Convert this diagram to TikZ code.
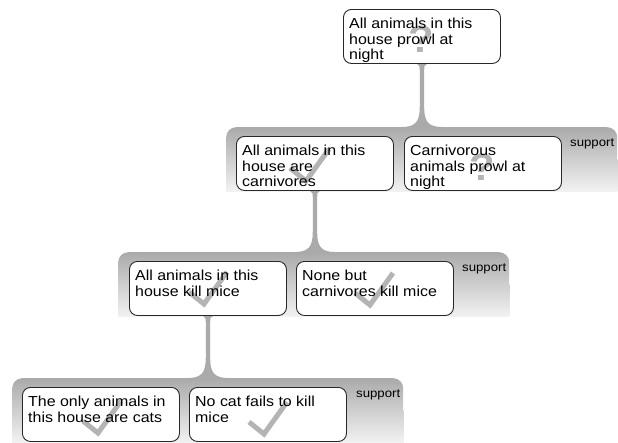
\documentclass[tikz,border=0pt]{standalone}
\usepackage{fontspec}
\setmainfont{Liberation Sans}[FakeStretch=1.1]
\usetikzlibrary{calc}
\definecolor{panelTop}{RGB}{170,170,170}
\definecolor{panelBot}{RGB}{242,242,242}
\definecolor{markC}{RGB}{180,180,180}
\definecolor{boxLine}{RGB}{40,40,40}
\pgfdeclarelayer{panels}
\pgfdeclarelayer{stems}
\pgfsetlayers{panels,stems,main}
\tikzset{
 panel/.style={rectangle, rounded corners=10pt, top color=panelTop, bottom color=panelBot, draw=none, minimum width=391pt, minimum height=64pt, anchor=north west, inner sep=0pt},
 panelfoot/.style={top color=panelTop!50!panelBot, bottom color=panelBot, draw=none},
 claim/.style={rectangle, rounded corners=8pt, draw=boxLine, line width=0.9pt, fill=white, minimum width=157pt, minimum height=54pt, anchor=north west, inner sep=0pt},
 claimtext/.style={anchor=north west, inner sep=0pt, align=left, font=\fontsize{14.5pt}{15.5pt}\selectfont},
 supp/.style={anchor=base east, inner sep=0pt, font=\fontsize{12pt}{14pt}\selectfont},
 tick/.style={draw=markC, line width=5pt},
 qmark/.style={text=markC, font=\fontsize{38pt}{40pt}\selectfont\bfseries, inner sep=0pt},
}
\newcommand\stemconn[2]{%
 \fill[panelTop] let \p1=(#1.south), \p2=(#1.south |- #2.north) in
  (\x1-5pt,\y1+1pt) -- (\x1-5pt,\y1) .. controls (\x1-2.2pt,\y1-1pt) and (\x1-2.2pt,\y1-3pt) .. (\x1-2.2pt,\y1-6pt)
  -- (\x1-2.2pt,\y2+20pt) .. controls (\x1-2.2pt,\y2+6pt) and (\x1-6pt,\y2) .. (\x1-20pt,\y2)
  -- (\x1-20pt,\y2-2pt) -- (\x1+20pt,\y2-2pt) -- (\x1+20pt,\y2)
  .. controls (\x1+6pt,\y2) and (\x1+2.2pt,\y2+6pt) .. (\x1+2.2pt,\y2+20pt)
  -- (\x1+2.2pt,\y1-6pt) .. controls (\x1+2.2pt,\y1-3pt) and (\x1+2.2pt,\y1-1pt) .. (\x1+5pt,\y1)
  -- (\x1+5pt,\y1+1pt) -- cycle;}
\begin{document}
\begin{tikzpicture}[x=1pt,y=-1pt]
\useasboundingbox (0,0) rectangle (618,442);
\begin{pgfonlayer}{panels}
\node[panel] (P1) at (226,127) {};
\node[panel] (P2) at (118,252) {};
\node[panel] (P3) at (12,378) {};
\shade[panelfoot] (P1.west) rectangle (P1.south east);
\shade[panelfoot] (P2.west) rectangle (P2.south east);
\shade[panelfoot] (P3.west) rectangle (P3.south east);
\end{pgfonlayer}
% boxes
\node[claim] (T) at (343,9) {};
\node[claim] (B11) at (236,136) {};
\node[claim] (B12) at (404,136) {};
\node[claim] (B21) at (129,261) {};
\node[claim] (B22) at (296,261) {};
\node[claim] (B31) at (22,387) {};
\node[claim] (B32) at (189,387) {};
% stems
\begin{pgfonlayer}{stems}
\stemconn{T}{P1}
\stemconn{B11}{P2}
\stemconn{B21}{P3}
\end{pgfonlayer}
% status marks
\node[qmark] (q0) at (421,39) {?};
\node[qmark] (q12) at (482,167) {?};
\draw[tick] (290,168) -- (306,181) -- (329,149);
\draw[tick] (189,292) -- (204,304) -- (227,272);
\draw[tick] (355,293) -- (370,305) -- (393,273);
\draw[tick] (83,421) -- (98,433) -- (121,401);
\draw[tick] (249,422) -- (264,434) -- (287,402);
% texts
\node[claimtext] (tT) at ([xshift=6pt,yshift=-8pt]T.north west) {\rule{0pt}{11.5pt}All animals in this\\house prowl at\\night};
\node[claimtext] (t11) at ([xshift=6pt,yshift=-8pt]B11.north west) {\rule{0pt}{11.5pt}All animals in this\\house are\\carnivores};
\node[claimtext] (t12) at ([xshift=6pt,yshift=-8pt]B12.north west) {\rule{0pt}{11.5pt}Carnivorous\\animals prowl at\\night};
\node[claimtext] (t21) at ([xshift=6pt,yshift=-8pt]B21.north west) {\rule{0pt}{11.5pt}All animals in this\\house kill mice};
\node[claimtext] (t22) at ([xshift=6pt,yshift=-8pt]B22.north west) {\rule{0pt}{11.5pt}None but\\carnivores kill mice};
\node[claimtext] (t31) at ([xshift=6pt,yshift=-8pt]B31.north west) {\rule{0pt}{11.5pt}The only animals in\\this house are cats};
\node[claimtext] (t32) at ([xshift=6pt,yshift=-8pt]B32.north west) {\rule{0pt}{11.5pt}No cat fails to kill\\mice};
% support labels
\node[supp] (s1) at ([xshift=-3pt,yshift=-19pt]P1.north east) {support};
\node[supp] (s2) at ([xshift=-3pt,yshift=-19pt]P2.north east) {support};
\node[supp] (s3) at ([xshift=-3pt,yshift=-19pt]P3.north east) {support};
\end{tikzpicture}
\end{document}
